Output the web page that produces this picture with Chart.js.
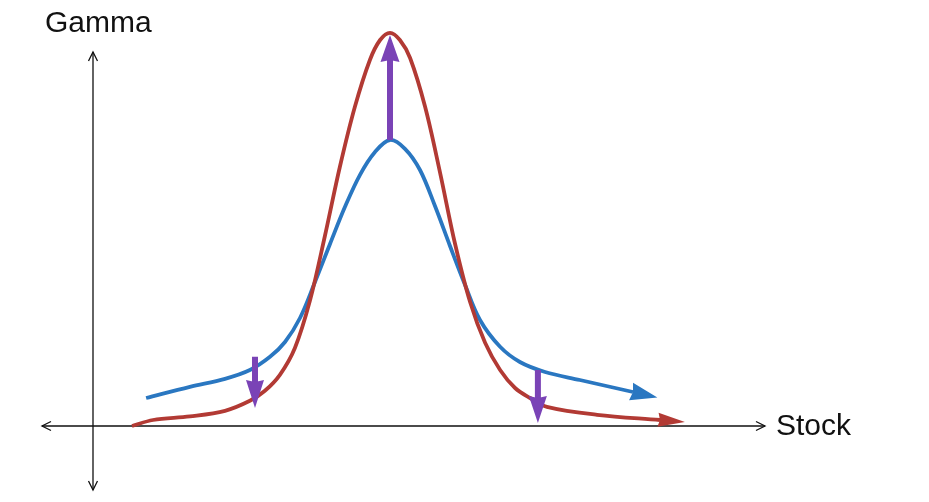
<!DOCTYPE html>
<html>
<head>
<meta charset="utf-8">
<script src="https://cdn.jsdelivr.net/npm/chart.js@4.4.1/dist/chart.umd.min.js"></script>
<style>
    html, body { margin: 0; padding: 0; background: #fff; }
    #wrap { width: 929px; height: 502px; }
</style>
</head>
<body>
<div id="wrap"><canvas id="gammaChart"></canvas></div>
<script>
// gamma vs stock price, before (blue) and after (red)
const stockBlue = [1.77, 3.23, 4.40, 5.23, 5.90, 6.40, 6.90, 7.40, 7.90, 8.40, 8.90, 9.40, 9.90, 10.40, 10.90, 11.40, 11.90, 12.40, 12.90, 13.57, 14.23, 15.07, 16.23, 18.00];
const gammaBlue = [0.70, 0.98, 1.18, 1.40, 1.73, 2.10, 2.70, 3.60, 4.55, 5.48, 6.28, 6.85, 7.15, 6.93, 6.40, 5.50, 4.50, 3.53, 2.65, 1.98, 1.60, 1.35, 1.15, 0.85];

const stockRed = [1.30, 2.00, 3.23, 4.40, 5.23, 5.73, 6.23, 6.73, 7.23, 7.73, 8.23, 8.73, 9.23, 9.57, 9.90, 10.23, 10.57, 11.07, 11.57, 12.07, 12.57, 13.07, 13.57, 14.07, 14.57, 15.13, 16.80, 18.90];
const gammaRed = [0.00, 0.15, 0.24, 0.38, 0.63, 0.88, 1.28, 1.95, 3.13, 4.75, 6.48, 7.98, 9.15, 9.65, 9.83, 9.65, 9.20, 7.98, 6.33, 4.55, 3.10, 2.08, 1.40, 0.95, 0.70, 0.48, 0.28, 0.15];

// purple change arrows: [x, from, to (base of head)]
const shiftLeft = [5.40, 1.73, 1.10];
const shiftMid = [9.90, 7.15, 9.15];
const shiftRight = [14.83, 1.40, 0.70];

// axis extents
const xAxisRange = [-1.7, 22.4];
const yAxisRange = [-1.6, 9.35];

const toPoints = (xs, ys) => xs.map((x, i) => ({x: x, y: ys[i]}));
const arrowPoints = (a) => [{x: a[0], y: a[1]}, {x: a[0], y: a[2]}];

const PURPLE = "#7a43b6";

const arrowHeads = {
    id: "arrowHeads",
    afterDatasetsDraw(chart) {
        const ctx = chart.ctx;
        chart.data.datasets.forEach((ds, i) => {
            if (!ds.headLen) {
                return;
            }
            const pts = chart.getDatasetMeta(i).data;
            const last = pts[pts.length - 1];
            let px = pts[pts.length - 2].x, py = pts[pts.length - 2].y;
            if (last.cp1x !== undefined && Math.hypot(last.cp1x - last.x, last.cp1y - last.y) > 1) {
                px = last.cp1x;
                py = last.cp1y;
            }
            const ang = Math.atan2(last.y - py, last.x - px);
            const cos = Math.cos(ang), sin = Math.sin(ang);
            const hw = ds.headWidth / 2;
            // start the head slightly back so it overlaps the line end
            const bx = last.x - cos * 2, by = last.y - sin * 2;
            ctx.save();
            ctx.fillStyle = ds.borderColor;
            ctx.beginPath();
            ctx.moveTo(last.x + cos * ds.headLen, last.y + sin * ds.headLen);
            ctx.lineTo(bx - sin * hw, by + cos * hw);
            ctx.lineTo(bx + cos * 2, by + sin * 2);
            ctx.lineTo(bx + sin * hw, by - cos * hw);
            ctx.closePath();
            ctx.fill();
            ctx.restore();
        });
    }
};

const drawAxes = {
    id: "drawAxes",
    beforeDatasetsDraw(chart) {
        const ctx = chart.ctx;
        const xs = chart.scales.x, ys = chart.scales.y;
        const x0 = xs.getPixelForValue(0), y0 = ys.getPixelForValue(0);
        const xl = xs.getPixelForValue(xAxisRange[0]), xr = xs.getPixelForValue(xAxisRange[1]);
        const yt = ys.getPixelForValue(yAxisRange[1]), yb = ys.getPixelForValue(yAxisRange[0]);
        ctx.save();
        ctx.strokeStyle = "#111";
        ctx.lineWidth = 1.3;
        ctx.beginPath();
        ctx.moveTo(xl, y0);
        ctx.lineTo(xr, y0);
        ctx.moveTo(x0, yt);
        ctx.lineTo(x0, yb);
        ctx.stroke();

        const h = 9, w = 4.5;
        ctx.beginPath();
        ctx.moveTo(xl + h, y0 - w); ctx.lineTo(xl, y0); ctx.lineTo(xl + h, y0 + w);
        ctx.moveTo(xr - h, y0 - w); ctx.lineTo(xr, y0); ctx.lineTo(xr - h, y0 + w);
        ctx.moveTo(x0 - w, yt + h); ctx.lineTo(x0, yt); ctx.lineTo(x0 + w, yt + h);
        ctx.moveTo(x0 - w, yb - h); ctx.lineTo(x0, yb); ctx.lineTo(x0 + w, yb - h);
        ctx.stroke();

        ctx.fillStyle = "#111";
        ctx.font = "30px 'Liberation Sans', Arial, sans-serif";
        ctx.textAlign = "left";
        ctx.textBaseline = "alphabetic";
        ctx.fillText("Gamma", x0 - 48, yt - 20);
        ctx.textBaseline = "middle";
        ctx.fillText("Stock", xr + 11, y0 + 1);
        ctx.restore();
    }
};

const lineSet = (data, color, width, extra) => Object.assign({
    data: data,
    showLine: true,
    borderColor: color,
    backgroundColor: color,
    borderWidth: width,
    pointRadius: 0,
    fill: false,
    tension: 0
}, extra);

const chartInstance = new Chart(document.getElementById("gammaChart").getContext("2d"), {
    type: "scatter",
    data: {
        datasets: [
            lineSet(arrowPoints(shiftMid), PURPLE, 6, {headLen: 25, headWidth: 19}),
            lineSet(arrowPoints(shiftLeft), PURPLE, 6, {headLen: 26, headWidth: 18}),
            lineSet(arrowPoints(shiftRight), PURPLE, 6, {headLen: 25, headWidth: 18}),
            lineSet(toPoints(stockRed, gammaRed), "#b23a34", 3.8, {tension: 0.35, headLen: 25, headWidth: 14}),
            lineSet(toPoints(stockBlue, gammaBlue), "#2a77c1", 3.8, {tension: 0.35, headLen: 25, headWidth: 18})
        ]
    },
    options: {
        responsive: true,
        maintainAspectRatio: false,
        animation: false,
        layout: {padding: 0},
        plugins: {legend: {display: false}, tooltip: {enabled: false}},
        scales: {
            x: {type: "linear", display: false, min: -3.1, max: 27.867},
            y: {type: "linear", display: false, min: -1.9, max: 10.65}
        }
    },
    plugins: [drawAxes, arrowHeads]
});
</script>
</body>
</html>
